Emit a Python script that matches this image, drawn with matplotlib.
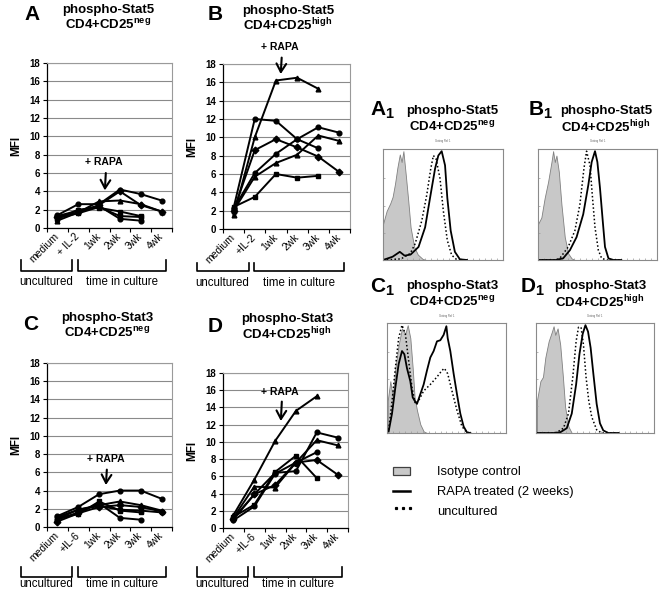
import matplotlib
matplotlib.use("Agg")
import matplotlib.pyplot as plt
from matplotlib.transforms import blended_transform_factory
from matplotlib.patches import Rectangle
from matplotlib.lines import Line2D

plt.rcParams['font.family'] = ['Liberation Sans', 'DejaVu Sans']
plt.rcParams['mathtext.fontset'] = 'custom'
plt.rcParams['mathtext.rm'] = 'Liberation Sans'
plt.rcParams['mathtext.bf'] = 'Liberation Sans:bold'

nan = float('nan')

# ---------------------------- Data ---------------------------- #

labels_a = ["medium", "+ IL-2", "1wk", "2wk", "3wk", "4wk"]
labels_b = ["medium", "+IL-2", "1wk", "2wk", "3wk", "4wk"]
labels_il6 = ["medium", "+IL-6", "1wk", "2wk", "3wk", "4wk"]

# MFI per donor, phospho-Stat5 CD4+CD25neg
stat5_neg = [
    [1.4, 2.6, 2.6, 4.2, 3.7, 3.0],
    [1.2, 1.7, 2.5, 4.0, 2.5, 1.8],
    [0.8, 1.7, 2.9, 3.0, 2.6, 1.8],
    [1.0, 2.0, 2.2, 1.8, 1.3, nan],
    [1.3, 1.9, 2.4, 1.0, 0.8, nan],
    [1.1, 1.6, 2.3, 1.3, 1.2, nan],
]
stat5_neg_markers = ['o', 'D', '^', 's', 'o', 's']

# phospho-Stat5 CD4+CD25high
stat5_high = [
    [1.5, 10.0, 16.2, 16.5, 15.3, nan],
    [2.3, 12.0, 11.8, 9.8, 8.8, nan],
    [2.0, 8.6, 9.8, 8.9, 7.9, 6.2],
    [2.2, 6.1, 8.2, 9.8, 11.1, 10.5],
    [2.0, 5.7, 7.2, 8.1, 10.2, 9.6],
    [2.4, 3.5, 6.0, 5.6, 5.8, nan],
]
stat5_high_markers = ['^', 'o', 'D', 'o', '^', 's']

# phospho-Stat3 CD4+CD25neg
stat3_neg = [
    [1.2, 2.2, 3.6, 4.0, 4.0, 3.1],
    [0.9, 1.9, 2.4, 2.8, 2.4, 1.8],
    [0.8, 1.6, 2.6, 1.0, 0.8, nan],
    [1.0, 1.4, 2.8, 1.8, 1.6, nan],
    [0.6, 1.5, 2.2, 2.4, 2.2, 1.7],
    [1.1, 1.9, 2.3, 1.9, 1.8, 1.6],
]
stat3_neg_markers = ['o', '^', 'o', 's', 'D', 's']

# phospho-Stat3 CD4+CD25high
stat3_high = [
    [1.5, 5.6, 10.1, 13.6, 15.3, nan],
    [1.0, 3.9, 6.4, 6.6, 11.1, 10.5],
    [1.2, 4.8, 4.7, 7.6, 10.2, 9.6],
    [0.9, 2.5, 6.3, 7.6, 8.8, nan],
    [1.3, 2.7, 6.5, 8.4, 5.8, nan],
    [1.1, 3.9, 5.0, 7.6, 7.9, 6.2],
]
stat3_high_markers = ['^', 'o', '^', 'o', 's', 'D']

# Histogram traces (x = fraction of channel range, y = fraction of max count)
a1_iso_x = [0.0, 0.03, 0.06, 0.08, 0.10, 0.12, 0.14, 0.155, 0.17, 0.19, 0.21, 0.23, 0.26, 0.29, 0.33, 0.36]
a1_iso_y = [0.33, 0.45, 0.52, 0.58, 0.70, 0.85, 0.97, 0.90, 1.0, 0.78, 0.55, 0.30, 0.12, 0.05, 0.01, 0.0]
a1_rapa_x = [0.0, 0.08, 0.14, 0.18, 0.23, 0.296, 0.351, 0.392, 0.434, 0.461, 0.489, 0.517, 0.536, 0.564, 0.599, 0.641, 0.70]
a1_rapa_y = [0.0, 0.03, 0.075, 0.04, 0.05, 0.12, 0.30, 0.57, 0.84, 0.96, 1.0, 0.87, 0.57, 0.27, 0.075, 0.006, 0.0]
a1_unc_x = [0.0, 0.15, 0.227, 0.268, 0.323, 0.365, 0.398, 0.420, 0.442, 0.475, 0.503, 0.536, 0.572, 0.613, 0.70]
a1_unc_y = [0.0, 0.01, 0.06, 0.15, 0.36, 0.60, 0.84, 0.96, 0.93, 0.75, 0.45, 0.18, 0.045, 0.006, 0.0]

b1_iso_x = [0.0, 0.028, 0.056, 0.085, 0.113, 0.127, 0.141, 0.155, 0.175, 0.197, 0.225, 0.254, 0.282, 0.31]
b1_iso_y = [0.33, 0.39, 0.57, 0.72, 0.90, 1.0, 0.90, 0.96, 0.81, 0.51, 0.21, 0.06, 0.015, 0.0]
b1_rapa_x = [0.0, 0.15, 0.211, 0.268, 0.324, 0.380, 0.423, 0.451, 0.479, 0.499, 0.521, 0.544, 0.563, 0.592, 0.634, 0.70]
b1_rapa_y = [0.0, 0.0, 0.015, 0.09, 0.21, 0.42, 0.69, 0.90, 1.0, 0.90, 0.66, 0.36, 0.12, 0.015, 0.0, 0.0]
b1_unc_x = [0.0, 0.15, 0.183, 0.254, 0.310, 0.352, 0.386, 0.408, 0.437, 0.456, 0.479, 0.507, 0.535, 0.578, 0.70]
b1_unc_y = [0.0, 0.0, 0.015, 0.12, 0.27, 0.51, 0.84, 1.0, 0.87, 0.60, 0.30, 0.09, 0.015, 0.0, 0.0]

c1_iso_x = [0.006, 0.028, 0.048, 0.070, 0.098, 0.126, 0.154, 0.174, 0.196, 0.216, 0.232, 0.252, 0.280, 0.308, 0.336]
c1_iso_y = [0.30, 0.48, 0.33, 0.60, 0.82, 0.97, 0.92, 1.0, 0.88, 0.60, 0.33, 0.21, 0.08, 0.015, 0.0]
c1_rapa_x = [0.014, 0.042, 0.070, 0.098, 0.126, 0.146, 0.168, 0.196, 0.216, 0.232, 0.252, 0.28, 0.308, 0.336,
             0.364, 0.392, 0.42, 0.448, 0.476, 0.499, 0.510, 0.532, 0.560, 0.588, 0.616, 0.644, 0.672, 0.70]
c1_rapa_y = [0.015, 0.18, 0.42, 0.64, 0.76, 0.73, 0.60, 0.48, 0.33, 0.30, 0.27, 0.36, 0.45, 0.58,
             0.70, 0.76, 0.85, 0.86, 0.91, 0.99, 0.88, 0.76, 0.55, 0.36, 0.18, 0.06, 0.006, 0.0]
c1_unc_x = [0.014, 0.042, 0.070, 0.098, 0.126, 0.154, 0.182, 0.210, 0.238, 0.266, 0.308, 0.364, 0.420,
            0.462, 0.482, 0.510, 0.546, 0.588, 0.630, 0.672, 0.70]
c1_unc_y = [0.03, 0.29, 0.60, 0.88, 1.0, 0.92, 0.67, 0.42, 0.27, 0.30, 0.39, 0.45, 0.52,
            0.58, 0.60, 0.55, 0.39, 0.21, 0.06, 0.006, 0.0]

d1_iso_x = [0.008, 0.037, 0.059, 0.079, 0.107, 0.135, 0.149, 0.163, 0.183, 0.205, 0.228, 0.247, 0.275, 0.303]
d1_iso_y = [0.30, 0.48, 0.52, 0.70, 0.85, 0.94, 0.99, 0.91, 0.97, 0.82, 0.52, 0.24, 0.06, 0.0]
d1_rapa_x = [0.0, 0.15, 0.205, 0.261, 0.303, 0.340, 0.368, 0.396, 0.419, 0.441, 0.463, 0.486, 0.514, 0.542, 0.570, 0.612, 0.70]
d1_rapa_y = [0.0, 0.0, 0.006, 0.045, 0.18, 0.45, 0.73, 0.92, 1.0, 0.94, 0.79, 0.55, 0.27, 0.09, 0.024, 0.0, 0.0]
d1_unc_x = [0.0, 0.15, 0.177, 0.233, 0.275, 0.312, 0.340, 0.360, 0.382, 0.402, 0.424, 0.447, 0.472, 0.514, 0.556, 0.70]
d1_unc_y = [0.0, 0.0, 0.006, 0.045, 0.18, 0.52, 0.85, 0.98, 0.98, 0.82, 0.52, 0.30, 0.15, 0.03, 0.0, 0.0]

# ---------------------------- Figure ---------------------------- #

W, H = 661, 590
fig = plt.figure(figsize=(W / 100, H / 100), dpi=100)


def fx(x):
    return x / W


def fy(y):
    return 1 - y / H


def rect_px(left, top, right, bottom):
    return [fx(left), fy(bottom), (right - left) / W, (bottom - top) / H]


def title_text(cx, y1, y2, stat, subset):
    fig.text(fx(cx), fy(y1), stat, ha='center', va='center', fontsize=9.5, fontweight='bold')
    fig.text(fx(cx), fy(y2), 'CD4+CD25$^{\\mathbf{%s}}$' % subset, ha='center', va='center',
             fontsize=9.5, fontweight='bold')


def line_panel(rect, series, markers, xlabels, rapa_xy, brackets):
    ax = fig.add_axes(rect)
    xs = list(range(len(xlabels)))

    for values, m in zip(series, markers):
        ax.plot(xs, values, color='black', lw=1.4, marker=m, markersize=3.4,
                markerfacecolor='black', markeredgecolor='black', zorder=3)

    ax.set_xlim(-0.5, len(xlabels) - 0.5)
    ax.set_ylim(0, 18)
    ax.set_yticks(range(0, 19, 2))
    ax.yaxis.grid(True, color='#8a8a8a', lw=0.8)
    ax.set_axisbelow(True)

    # ticks between categories, labels at the centres
    ax.set_xticks([i - 0.5 for i in range(len(xlabels) + 1)])
    ax.set_xticklabels([])
    ax.set_xticks(xs, minor=True)
    ax.set_xticklabels(xlabels, minor=True, rotation=45, ha='right', va='center',
                       rotation_mode='anchor', fontsize=7.5)
    ax.tick_params(axis='x', which='minor', length=0, pad=5)
    ax.tick_params(axis='x', which='major', length=3, width=0.8, direction='out')
    ax.tick_params(axis='y', length=3, width=0.8, direction='out', pad=2)
    for lab in ax.get_yticklabels():
        lab.set_fontweight('bold')
        lab.set_fontsize(7)

    for side in ['left', 'bottom']:
        ax.spines[side].set_color('black')
        ax.spines[side].set_linewidth(0.9)
    for side in ['top', 'right']:
        ax.spines[side].set_color('#9a9a9a')
        ax.spines[side].set_linewidth(0.8)

    ax.set_ylabel('MFI', fontsize=8.5, fontweight='bold', labelpad=5)

    # + RAPA arrow
    tx, ty, ay0, ay1 = rapa_xy
    ax.text(tx, ty, '+ RAPA', ha='center', va='center', fontsize=7.5, fontweight='bold', clip_on=False)
    ax.annotate('', xy=(tx + 0.02, ay1), xytext=(tx + 0.08, ay0),
                arrowprops=dict(arrowstyle='->, head_width=0.35, head_length=0.6', lw=1.5, color='black'),
                annotation_clip=False)

    # brackets below the axis
    top, bot, text_y = brackets
    trans = blended_transform_factory(ax.transData, fig.transFigure)
    for x0, x1, name in [(-1.75, 0.72, 'uncultured'), (0.98, 5.2, 'time in culture')]:
        ax.add_line(Line2D([x0, x0, x1, x1], [fy(top), fy(bot), fy(bot), fy(top)],
                           transform=trans, color='black', lw=1.2, clip_on=False))
        ax.text((x0 + x1) / 2, fy(text_y), name, transform=trans, ha='center', va='center',
                fontsize=8.3)
    return ax


def hist_panel(rect, iso, rapa, unc):
    ax = fig.add_axes(rect)
    ax.fill_between(iso[0], iso[1], color='#c8c8c8', edgecolor='#808080', lw=0.6)
    ax.plot(unc[0], unc[1], color='black', lw=1.1, ls=(0, (1, 1.5)))
    ax.plot(rapa[0], rapa[1], color='black', lw=1.3)
    ax.set_xlim(0, 1)
    ax.set_ylim(0, 1.02)
    ax.set_xticks([0.05 * i for i in range(1, 20)])
    ax.set_yticks([0.25, 0.5, 0.75])
    ax.set_xticklabels([])
    ax.set_yticklabels([])
    ax.tick_params(length=1.5, width=0.5, colors='#9a9a9a', direction='in')
    for s in ax.spines.values():
        s.set_color('#8a8a8a')
        s.set_linewidth(0.8)
    ax.text(0.5, 1.05, 'Gating Ref 1', transform=ax.transAxes, ha='center', va='bottom',
            fontsize=2, color='#666666')
    return ax


# ---------------------------- Line charts ---------------------------- #

line_panel(rect_px(47, 63, 172, 228), stat5_neg, stat5_neg_markers, labels_a,
           (2.25, 7.2, 6.3, 3.8), (260, 271, 282))
fig.text(fx(32), fy(15), 'A', ha='center', va='center', fontsize=15, fontweight='bold')
title_text(108, 10, 25, 'phospho-Stat5', 'neg')

line_panel(rect_px(223, 64, 350, 229), stat5_high, stat5_high_markers, labels_b,
           (2.2, 19.8, 19.0, 16.6), (263, 271, 283))
fig.text(fx(215), fy(14), 'B', ha='center', va='center', fontsize=15, fontweight='bold')
title_text(288, 11, 25, 'phospho-Stat5', 'high')

line_panel(rect_px(47, 363, 172, 527), stat3_neg, stat3_neg_markers, labels_il6,
           (2.3, 7.5, 6.6, 4.3), (567, 577, 584))
fig.text(fx(31), fy(325), 'C', ha='center', va='center', fontsize=15, fontweight='bold')
title_text(107, 318, 333, 'phospho-Stat3', 'neg')

line_panel(rect_px(223, 373, 348, 528), stat3_high, stat3_high_markers, labels_il6,
           (2.25, 15.8, 15.0, 12.1), (567, 577, 584))
fig.text(fx(215), fy(327), 'D', ha='center', va='center', fontsize=15, fontweight='bold')
title_text(287, 319, 334, 'phospho-Stat3', 'high')

# ---------------------------- Histograms ---------------------------- #

hist_panel(rect_px(383, 149, 503, 260), (a1_iso_x, a1_iso_y), (a1_rapa_x, a1_rapa_y), (a1_unc_x, a1_unc_y))
hist_panel(rect_px(538, 149, 657, 260), (b1_iso_x, b1_iso_y), (b1_rapa_x, b1_rapa_y), (b1_unc_x, b1_unc_y))
hist_panel(rect_px(387, 323, 506, 433), (c1_iso_x, c1_iso_y), (c1_rapa_x, c1_rapa_y), (c1_unc_x, c1_unc_y))
hist_panel(rect_px(536, 323, 654, 433), (d1_iso_x, d1_iso_y), (d1_rapa_x, d1_rapa_y), (d1_unc_x, d1_unc_y))

for letter, lx, ly, cx, y1, y2, stat, subset in [
        ('A', 382, 110, 452, 111, 127, 'phospho-Stat5', 'neg'),
        ('B', 540, 110, 606, 111, 127, 'phospho-Stat5', 'high'),
        ('C', 382, 287, 452, 286, 302, 'phospho-Stat3', 'neg'),
        ('D', 532, 287, 600, 286, 302, 'phospho-Stat3', 'high')]:
    fig.text(fx(lx), fy(ly), letter + '$_{\\mathbf{1}}$', ha='center', va='center',
             fontsize=15, fontweight='bold')
    title_text(cx, y1, y2, stat, subset)

# ---------------------------- Legend ---------------------------- #

fig.patches.append(Rectangle((fx(393), fy(475)), 17 / W, 8 / H, transform=fig.transFigure,
                             facecolor='#c8c8c8', edgecolor='#404040', lw=0.9))
fig.add_artist(Line2D([fx(393), fx(410)], [fy(491), fy(491)], color='black', lw=1.8))
# three dots for the uncultured key
fig.add_artist(Line2D([fx(396), fx(403), fx(410)], [fy(508), fy(508), fy(508)], color='black',
                      ls='none', marker='s', markersize=1.3))
fig.text(fx(437), fy(472), 'Isotype control', ha='left', va='center', fontsize=9.3)
fig.text(fx(437), fy(492), 'RAPA treated (2 weeks)', ha='left', va='center', fontsize=9.3)
fig.text(fx(437), fy(512), 'uncultured', ha='left', va='center', fontsize=9.3)

fig.savefig('out.png', dpi=100)
